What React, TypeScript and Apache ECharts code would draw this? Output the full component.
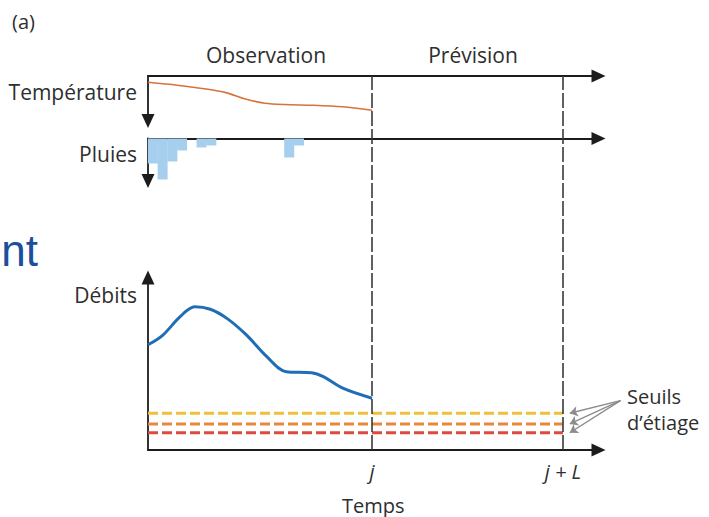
import React, { useEffect, useRef } from "react";
import * as echarts from "echarts";

// ---- data (time unit: day) ----
const J = 23; // last observation day
const L = 19.6; // forecast horizon
const X_MAX = 46.25; // end of time axes
const X_MAX_ANNOT = 56.67;

const tempDays = [0, 3, 6, 8, 10, 12, 14, 17, 20, 23];
const tempValues = [17.2, 15.9, 14.2, 12.6, 9.8, 7.9, 7.3, 7.0, 6.3, 4.8];

const rainDays = [0, 1, 2, 3, 5, 6, 14, 15];
const rainValues = [25, 41, 23, 12, 9, 7, 19, 7];

const flowDays = [0, 1.5, 3.3, 4.8, 6.4, 8.1, 10.1, 12.2, 14.2, 16.8, 18, 20, 23];
const flowValues = [61, 66.5, 77.3, 83.1, 81.6, 76.3, 66.7, 54.1, 45.4, 44.8, 42.5, 35.8, 30];

const thresholdNames = ["jaune", "orange", "rouge"];
const thresholdValues = [21.3, 15.1, 10.0];
const thresholdColors = ["#F2BE3C", "#E8883A", "#DE4A3E"];

const phaseLabels = ["Observation", "Prévision"];
const panelLabels = ["Température", "Pluies", "Débits"];
const thresholdLabel = ["Seuils", "d\u2019étiage"];

const TXT = "#2e2e2e";
const FONT = "'Open Sans', 'Noto Sans', sans-serif";
const AX = "#1c1c1c";

export default function App() {
  const ref = useRef<HTMLDivElement>(null);

  useEffect(() => {
    if (!ref.current) return;
    const chart = echarts.init(ref.current, undefined, { renderer: "svg" });

    const hiddenAxis = (gridIndex: number, min: number, max: number) => ({
      type: "value",
      gridIndex,
      min,
      max,
      show: false,
    });

    const axisLineWith = (symbol: string[]) => ({
      axisTick: { show: false },
      axisLabel: { show: false },
      splitLine: { show: false },
      axisLine: {
        show: true,
        onZero: false,
        symbol,
        symbolSize: [13, 14],
        lineStyle: { color: AX, width: 1.8 },
      },
    });

    const xAxes: any[] = [
      { type: "value", gridIndex: 0, min: 0, max: X_MAX, position: "top", ...axisLineWith(["none", "triangle"]) },
      { type: "value", gridIndex: 1, min: 0, max: X_MAX, position: "top", ...axisLineWith(["none", "triangle"]) },
      {
        type: "value",
        gridIndex: 2,
        min: 0,
        max: X_MAX,
        position: "bottom",
        ...axisLineWith(["none", "triangle"]),
        axisLabel: {
          show: true,
          customValues: [J, J + L],
          margin: 11,
          formatter: (v: number) => (Math.abs(v - J) < 0.01 ? "j" : "j + L"),
          fontFamily: FONT,
          fontStyle: "italic",
          fontSize: 20,
          color: TXT,
        },
        name: "Temps",
        nameLocation: "middle",
        nameGap: 45,
        nameTextStyle: { fontFamily: FONT, fontSize: 20, color: TXT },
      },
      hiddenAxis(3, 0, X_MAX),
      hiddenAxis(4, 0, X_MAX_ANNOT),
    ];

    const yAxes: any[] = [
      { type: "value", gridIndex: 0, min: 0, max: 20, ...axisLineWith(["triangle", "none"]) },
      { type: "value", gridIndex: 1, min: 0, max: 42.5, inverse: true, ...axisLineWith(["triangle", "none"]) },
      { type: "value", gridIndex: 2, min: 0, max: 100, ...axisLineWith(["none", "triangle"]) },
      hiddenAxis(3, 0, 1),
      hiddenAxis(4, 0, 100),
    ];

    const series: any[] = [
      {
        type: "line",
        name: panelLabels[0],
        xAxisIndex: 0,
        yAxisIndex: 0,
        data: tempDays.map((d, i) => [d, tempValues[i]]),
        smooth: 0.3,
        showSymbol: false,
        lineStyle: { color: "#D5733A", width: 1.6 },
      },
      {
        type: "bar",
        name: panelLabels[1],
        xAxisIndex: 1,
        yAxisIndex: 1,
        data: rainDays.map((d, i) => [d + 0.5, rainValues[i]]),
        barWidth: 10,
        itemStyle: { color: "#A6CFEE" },
      },
      {
        type: "line",
        name: panelLabels[2],
        xAxisIndex: 2,
        yAxisIndex: 2,
        data: flowDays.map((d, i) => [d, flowValues[i]]),
        smooth: 0.35,
        showSymbol: false,
        lineStyle: { color: "#1F6DB5", width: 3 },
        z: 5,
      },
      ...thresholdValues.map((v, i) => ({
        type: "line",
        name: thresholdNames[i],
        xAxisIndex: 2,
        yAxisIndex: 2,
        data: [
          [0, v],
          [J + L, v],
        ],
        showSymbol: false,
        lineStyle: { color: thresholdColors[i], width: 3, type: [10, 4] },
        z: 4,
      })),
      {
        type: "line",
        name: "limites",
        xAxisIndex: 3,
        yAxisIndex: 3,
        data: [],
        markLine: {
          silent: true,
          symbol: "none",
          label: { show: false },
          lineStyle: { color: "#3a3a3a", width: 1.6, type: [15, 3] },
          data: [{ xAxis: J }, { xAxis: J + L }],
        },
      },
      {
        type: "line",
        name: "fleches",
        xAxisIndex: 4,
        yAxisIndex: 4,
        data: [],
        markLine: {
          silent: true,
          symbol: ["none", "arrow"],
          symbolSize: 8,
          label: { show: false },
          lineStyle: { color: "#8c8c8c", width: 1.4, type: "solid" },
          data: thresholdValues.map((v) => [
            { coord: [48.5, 28.6] },
            { coord: [J + L + 0.7, v] },
          ]),
        },
      },
    ];

    const txt = (text: string, x: number, y: number, align: string, size = 21, extra: any = {}) => ({
      type: "text",
      x,
      y,
      silent: true,
      style: {
        text,
        fill: TXT,
        fontFamily: FONT,
        fontSize: size,
        align,
        verticalAlign: "middle",
        ...extra,
      },
    });

    chart.setOption({
      animation: false,
      backgroundColor: "#ffffff",
      grid: [
        { left: 148, top: 76, width: 450.5, height: 45 },
        { left: 148, top: 138.5, width: 450.5, height: 42.5 },
        { left: 148, top: 277.5, width: 450.5, height: 172.5 },
        { left: 148, top: 76, width: 450.5, height: 374 },
        { left: 148, top: 277.5, width: 552, height: 172.5 },
      ],
      xAxis: xAxes,
      yAxis: yAxes,
      series,
      graphic: [
        txt("(a)", 12, 21, "left", 20),
        txt(phaseLabels[0], 266, 55, "center"),
        txt(phaseLabels[1], 473, 55, "center"),
        txt(panelLabels[0], 137, 92, "right"),
        txt(panelLabels[1], 137, 154, "right"),
        txt(panelLabels[2], 137, 295, "right"),
        txt(thresholdLabel[0], 627, 396, "left", 20),
        txt(thresholdLabel[1], 627, 422, "left", 20),
        txt("nt", 38, 250, "right", 44, {
          fill: "#1B4F9E",
          fontFamily: "'Liberation Sans', Arial, sans-serif",
        }),
      ],
    });

    return () => chart.dispose();
  }, []);

  return (
    <div
      ref={ref}
      style={{ position: "fixed", left: 0, top: 0, width: 709, height: 517, background: "#fff" }}
    />
  );
}
